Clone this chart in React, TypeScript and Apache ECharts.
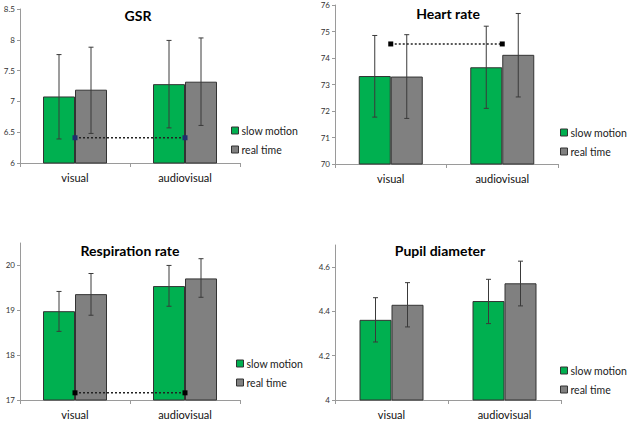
import React, { useEffect, useRef } from "react";
import * as echarts from "echarts";

const categories = ["visual", "audiovisual"];
const seriesNames = ["slow motion", "real time"];

// GSR
const gsrSlow = [7.08, 7.28];
const gsrReal = [7.19, 7.32];
const gsrSlowErr = [[6.39, 7.76], [6.57, 7.99]];
const gsrRealErr = [[6.48, 7.88], [6.61, 8.03]];
const gsrSig = [6.41, 6.41];

// Heart rate
const hrSlow = [73.32, 73.65];
const hrReal = [73.3, 74.12];
const hrSlowErr = [[71.77, 74.85], [72.1, 75.2]];
const hrRealErr = [[71.72, 74.88], [72.53, 75.68]];
const hrSig = [74.53, 74.53];

// Respiration rate
const rrSlow = [18.98, 19.54];
const rrReal = [19.36, 19.71];
const rrSlowErr = [[18.53, 19.42], [19.09, 20.0]];
const rrRealErr = [[18.89, 19.82], [19.29, 20.15]];
const rrSig = [17.16, 17.16];

// Pupil diameter
const pdSlow = [4.362, 4.447];
const pdReal = [4.43, 4.527];
const pdSlowErr = [[4.262, 4.462], [4.345, 4.545]];
const pdRealErr = [[4.33, 4.53], [4.425, 4.627]];

const titles = ["GSR", "Heart rate", "Respiration rate", "Pupil diameter"];

const FONT = "Lato";
const GREEN = "#00B050";
const GRAY = "#808080";

export default function App() {
  const ref = useRef<HTMLDivElement>(null);
  useEffect(() => {
    if (!ref.current) return;
    const chart = echarts.init(ref.current, null, { renderer: "svg" });

    const panels = [
      { slow: gsrSlow, real: gsrReal, se: gsrSlowErr, re: gsrRealErr, sig: gsrSig, sigColor: "#1f2f6e",
        grid: { left: 20, top: 9, width: 220, height: 154 }, min: 6, max: 8.5, interval: 0.5, hideMax: false,
        legend: { left: 231, top: 125 }, title: [138, 15] },
      { slow: hrSlow, real: hrReal, se: hrSlowErr, re: hrRealErr, sig: hrSig, sigColor: "#000",
        grid: { left: 335, top: 5, width: 223, height: 159 }, min: 70, max: 76, interval: 1, hideMax: false,
        legend: { left: 560, top: 127 }, title: [448, 13] },
      { slow: rrSlow, real: rrReal, se: rrSlowErr, re: rrRealErr, sig: rrSig, sigColor: "#000",
        grid: { left: 20, top: 243, width: 220, height: 157 }, min: 17, max: 20.5, interval: 1, hideMax: true,
        legend: { left: 236, top: 358 }, title: [130, 250] },
      { slow: pdSlow, real: pdReal, se: pdSlowErr, re: pdRealErr, sig: null, sigColor: "#000",
        grid: { left: 335, top: 245, width: 226, height: 155 }, min: 4, max: 4.7, interval: 0.2, hideMax: true,
        legend: { left: 560, top: 365 }, title: [440, 250] },
    ];

    const errRender = (offset: number) => (params: any, api: any) => {
      const c = api.value(0);
      const lo = api.coord([c, api.value(1)]);
      const hi = api.coord([c, api.value(2)]);
      const x = lo[0] + offset;
      const st = { stroke: "#3a3a3a", lineWidth: 1 };
      return {
        type: "group",
        children: [
          { type: "line", shape: { x1: x, y1: lo[1], x2: x, y2: hi[1] }, style: st },
          { type: "line", shape: { x1: x - 2.5, y1: lo[1], x2: x + 2.5, y2: lo[1] }, style: st },
          { type: "line", shape: { x1: x - 2.5, y1: hi[1], x2: x + 2.5, y2: hi[1] }, style: st },
        ],
      };
    };

    const grids: any[] = [];
    const xAxes: any[] = [];
    const yAxes: any[] = [];
    const legends: any[] = [];
    const series: any[] = [];
    const graphics: any[] = [];

    panels.forEach((p, i) => {
      grids.push({ ...p.grid });
      xAxes.push({
        type: "category",
        gridIndex: i,
        data: categories,
        axisLine: { lineStyle: { color: "#9a9a9a" } },
        axisTick: { show: true, length: 4, lineStyle: { color: "#9a9a9a" } },
        axisLabel: { fontFamily: FONT, fontSize: 11, color: "#111", margin: 9 },
      });
      yAxes.push({
        type: "value",
        gridIndex: i,
        min: p.min,
        max: p.max,
        interval: p.interval,
        splitLine: { show: false },
        axisLine: { show: true, lineStyle: { color: "#9a9a9a" } },
        axisTick: { show: true, length: 3, lineStyle: { color: "#9a9a9a" } },
        axisLabel: { fontFamily: FONT, fontSize: 8, color: "#333", margin: 5, showMaxLabel: !p.hideMax },
      });
      legends.push({
        data: seriesNames,
        orient: "vertical",
        left: p.legend.left,
        top: p.legend.top,
        width: 80,
        icon: "rect",
        itemWidth: 7,
        itemHeight: 7,
        itemGap: 8,
        padding: 0,
        textStyle: { fontFamily: FONT, fontSize: 10.5, color: "#222", lineHeight: 11, padding: [0, 0, 0, -2] },
        itemStyle: { borderColor: "#333", borderWidth: 1 },
        selectedMode: false,
      });
      series.push({
        type: "bar", name: seriesNames[0], xAxisIndex: i, yAxisIndex: i, data: p.slow,
        barWidth: 32, barGap: "0%",
        itemStyle: { color: GREEN, borderColor: "#333", borderWidth: 1 },
      });
      series.push({
        type: "bar", name: seriesNames[1], xAxisIndex: i, yAxisIndex: i, data: p.real,
        barWidth: 32, barGap: "0%",
        itemStyle: { color: GRAY, borderColor: "#333", borderWidth: 1 },
      });
      series.push({
        type: "custom", xAxisIndex: i, yAxisIndex: i, z: 5,
        data: p.se.map((e, k) => [k, e[0], e[1]]),
        encode: { x: 0, y: [1, 2] },
        renderItem: errRender(-16),
      });
      series.push({
        type: "custom", xAxisIndex: i, yAxisIndex: i, z: 5,
        data: p.re.map((e, k) => [k, e[0], e[1]]),
        encode: { x: 0, y: [1, 2] },
        renderItem: errRender(16),
      });
      if (p.sig) {
        series.push({
          type: "line", xAxisIndex: i, yAxisIndex: i, z: 6, data: p.sig,
          symbol: "rect", symbolSize: 5, showSymbol: true,
          itemStyle: { color: p.sigColor },
          lineStyle: { color: "#222", width: 1.5, type: [2, 2] },
        });
      }
      graphics.push({
        type: "text",
        x: p.title[0],
        y: p.title[1],
        style: {
          text: titles[i],
          align: "center",
          verticalAlign: "middle",
          fontFamily: FONT,
          fontSize: 14,
          fontWeight: "bold",
          fill: "#000",
        },
      });
    });

    chart.setOption({
      animation: false,
      backgroundColor: "#fff",
      grid: grids,
      xAxis: xAxes,
      yAxis: yAxes,
      legend: legends,
      series,
      graphic: graphics,
    });
    return () => chart.dispose();
  }, []);

  return (
    <div
      ref={ref}
      style={{ position: "absolute", left: 0, top: 0, width: 630, height: 421 }}
    />
  );
}
